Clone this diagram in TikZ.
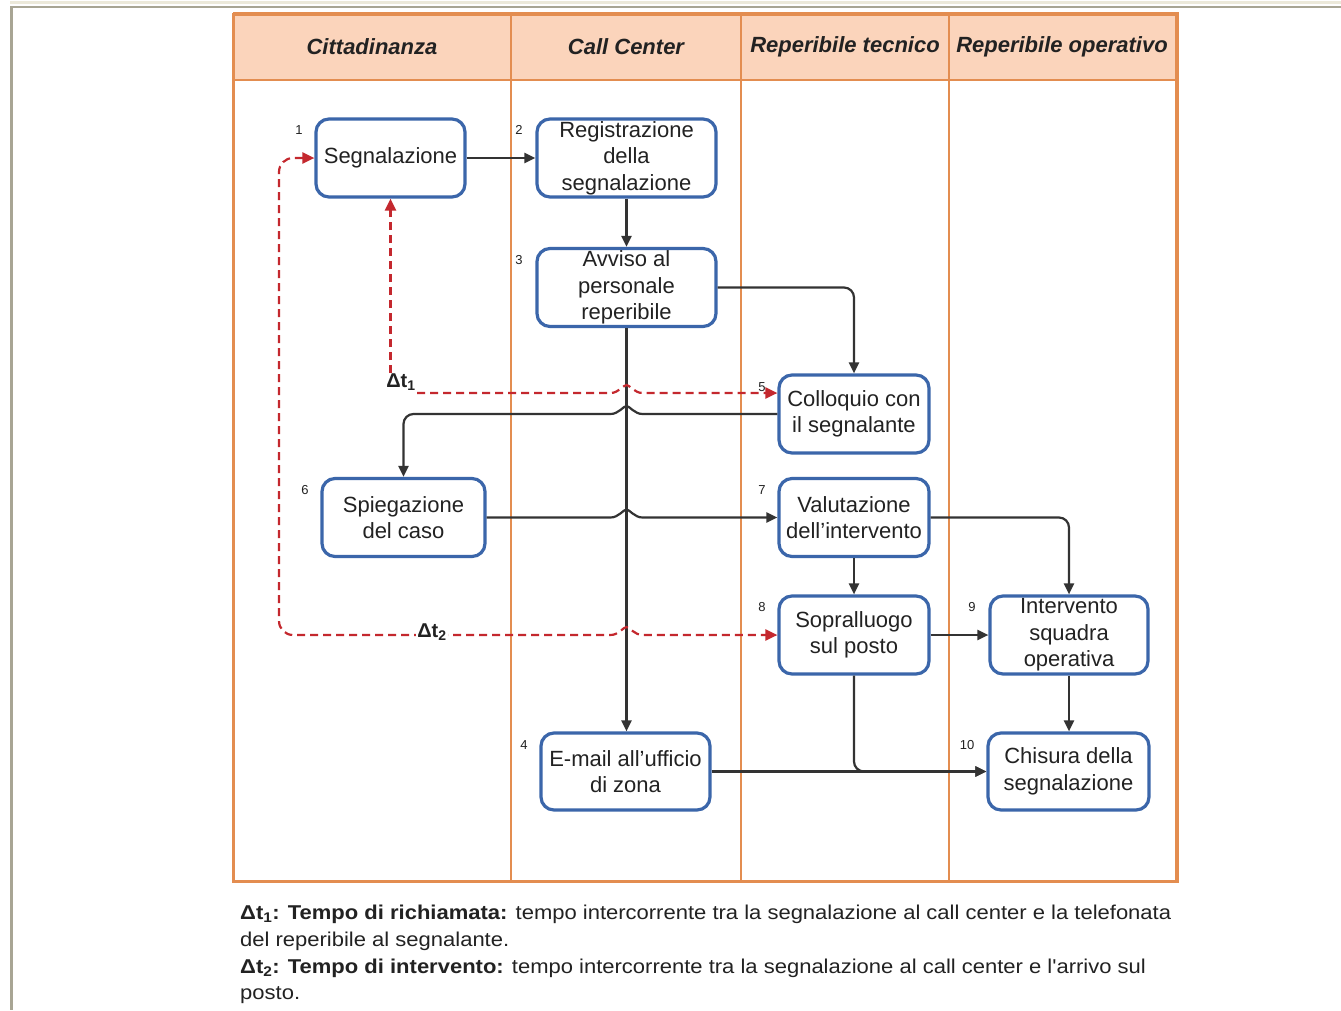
\documentclass[tikz,border=0pt]{standalone}
\usepackage{fontspec}
\setmainfont{Liberation Sans}
\newfontfamily\legendfont{Liberation Sans}[FakeStretch=1.1]
\usetikzlibrary{arrows.meta,calc}
\definecolor{laneor}{HTML}{E38D50}
\definecolor{headfill}{HTML}{FBD4BB}
\definecolor{boxblue}{HTML}{3B66AA}
\definecolor{linegray}{HTML}{333333}
\definecolor{dashred}{HTML}{C4282E}
\definecolor{framegray}{HTML}{A8A594}
\definecolor{framebeige}{HTML}{ECE9DA}
\definecolor{txt}{HTML}{222222}
\newcommand\jumphop[2]{[sharp corners] -- ($(#1)+(-16*#2,0)$) .. controls ($(#1)+(-8*#2,0)$) and ($(#1)+(-3*#2,-8)$) .. ($(#1)+(0,-8)$) .. controls ($(#1)+(3*#2,-8)$) and ($(#1)+(8*#2,0)$) .. ($(#1)+(16*#2,0)$) [rounded corners=10pt]}
\begin{document}
\begin{tikzpicture}[x=1pt,y=-1pt,
  proc/.style={draw=boxblue, line width=3.2pt, rounded corners=13pt, fill=white, text=txt, align=center, inner sep=0pt, font=\fontsize{22}{26.5}\selectfont, minimum height=78pt},
  num/.style={font=\fontsize{13}{13}\selectfont, text=txt, inner sep=0pt},
  lanehead/.style={font=\fontsize{22}{26}\selectfont\bfseries\itshape, text=txt, inner sep=0pt},
  conn/.style={draw=linegray, line width=2.2pt, rounded corners=10pt, arrows={-Triangle[length=11pt,width=10pt]}},
  dt/.style={draw=dashred, line width=2.2pt, dash pattern=on 8pt off 5pt, rounded corners=14pt},
  dttip/.style={arrows={-Triangle[length=12pt,width=11pt]}},
  dtboth/.style={arrows={Triangle[length=12pt,width=11pt]-Triangle[length=12pt,width=11pt]}},
  dtlabel/.style={font=\fontsize{20}{20}\selectfont\bfseries, text=txt, inner sep=1pt}
]
\useasboundingbox (0,0) rectangle (1341,1010);
\fill[white] (0,0) rectangle (1341,1010);
% page frame
\draw[framebeige, line width=3pt] (10,2) -- (1341,2);
\draw[framegray, line width=2.5pt] (10.5,7) -- (1341,7);
\draw[framegray, line width=2.5pt] (11.5,6) -- (11.5,1010);
% swimlanes
\fill[headfill] (233,14) rectangle (1177,80);
\draw[laneor, line width=2.5pt] (233,80) -- (1177,80);
\foreach \xx in {511,741,949} \draw[laneor, line width=2.5pt] (\xx,14) -- (\xx,881);
\draw[laneor, line width=3pt] (233,14) rectangle (1177,881);
\draw[laneor, line width=4pt] (233,14) -- (1177,14) -- (1177,881);
\node[lanehead] (h1) at (372,47) {Cittadinanza};
\node[lanehead] (h2) at (626,47) {Call Center};
\node[lanehead] (h3) at (845,47) {Reperibile tecnico};
\node[lanehead] (h4) at (1062,47) {Reperibile operativo};
% process boxes
\node[proc, minimum width=149pt] (n1) at (390.5,158) {Segnalazione};
\node[proc, minimum width=179pt] (n2) at (626.5,158) {Registrazione\\della\\segnalazione};
\node[proc, minimum width=179pt] (n3) at (626.5,287.5) {Avviso al\\personale\\reperibile};
\node[proc, minimum width=150pt] (n5) at (854,414) {Colloquio con\\il segnalante};
\node[proc, minimum width=163pt] (n6) at (403.5,517.5) {Spiegazione\\del caso};
\node[proc, minimum width=150pt] (n7) at (854,517.5) {Valutazione\\dell'intervento};
\node[proc, minimum width=150pt] (n8) at (854,635) {Sopralluogo\\sul posto};
\node[proc, minimum width=158pt] (n9) at (1069,635) {Intervento\\squadra\\operativa};
\node[proc, minimum width=169pt, minimum height=77pt] (n4) at (625.5,771.5) {E-mail all'ufficio\\di zona};
\node[proc, minimum width=161pt, minimum height=77pt] (n10) at (1068.5,771.5) {Chisura della\\segnalazione};
% step numbers
\node[num] (k1) at (299,130) {1};
\node[num] (k2) at (519,130) {2};
\node[num] (k3) at (519,260) {3};
\node[num] (k5) at (762,387) {5};
\node[num] (k6) at (305,490) {6};
\node[num] (k7) at (762,490) {7};
\node[num] (k8) at (762,607) {8};
\node[num] (k9) at (972,607) {9};
\node[num] (k4) at (524,745) {4};
\node[num] (k10) at (967,745) {10};
% connectors
\draw[conn] (n1) -- (n2);
\draw[conn] (n2) -- (n3);
\draw[conn] (n3.east) -| (n5.north);
\draw[conn] (n3.south) -- (n3.south |- n4.north);
\coordinate (c56) at (n3.south |- n5.west);
\draw[conn] (n5.west) \jumphop{c56}{-1} -| (n6.north);
\coordinate (c67) at (n3.south |- n6.east);
\draw[conn] (n6.east) \jumphop{c67}{1} -- (n7.west);
\draw[conn] (n7) -- (n8);
\draw[conn] (n7.east) -| (n9.north);
\draw[conn] (n8) -- (n9);
\draw[conn] (n9.south) -- (n9.south |- n10.north);
\draw[conn] (n8.south) |- (n10.west);
\draw[conn] (n4.east) -- (n10.west);
% delta t1
\node[dtlabel] (dt1) at (401,382) {Δt\textsubscript{1}};
\coordinate (d1v) at (390.5,373);
\coordinate (d1h) at (417,393);
\draw[dt, dttip] (d1v) -- (n1.south);
\coordinate (c1) at (n3.south |- d1h);
\draw[dt, dttip] (d1h) \jumphop{c1}{1} -- (n5.west |- d1h);
% delta t2
\coordinate (d2top) at (279,158);
\coordinate (d2bot) at (279,635);
\coordinate (c2) at (n3.south |- n8.west);
\draw[dt, dtboth] (n1.west) -- (d2top) -- (d2bot) \jumphop{c2}{1} -- (n8.west);
\node[dtlabel, fill=white] (dt2) at (432,632) {Δt\textsubscript{2}};
% legend
\node[anchor=north west, inner sep=0pt, align=left, font=\legendfont\fontsize{20}{26.7}\selectfont, text=txt] (foot) at (240,905) {\textbf{Δt\textsubscript{1}: Tempo di richiamata:} tempo intercorrente tra la segnalazione al call center e la telefonata\\del reperibile al segnalante.\\\textbf{Δt\textsubscript{2}: Tempo di intervento:} tempo intercorrente tra la segnalazione al call center e l'arrivo sul\\posto.};
\end{tikzpicture}
\end{document}
